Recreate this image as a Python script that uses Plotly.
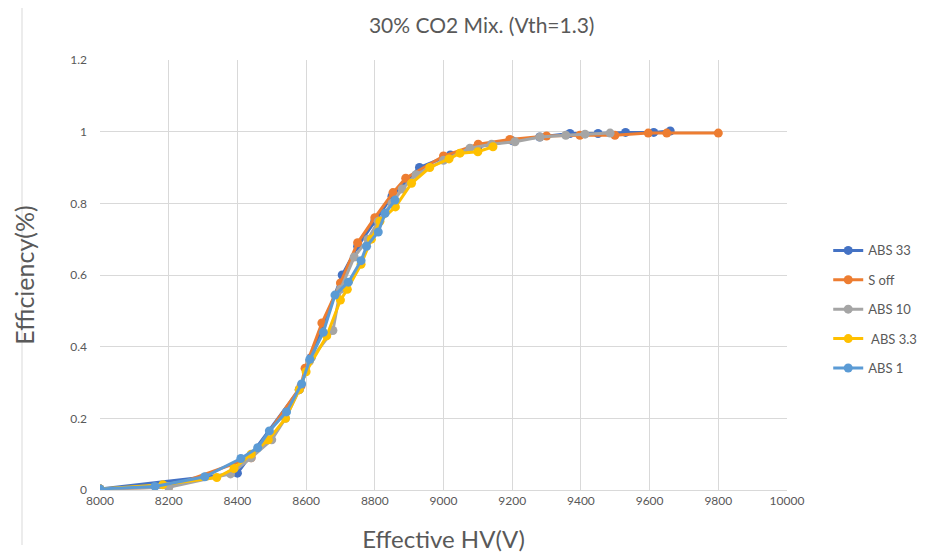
import plotly.graph_objects as go

# ABS 33
abs33_x = [8000, 8400, 8580, 8615, 8705, 8750, 8800, 8850, 8930, 9020, 9100, 9200, 9280, 9368, 9450, 9530, 9612, 9660]
abs33_y = [0.003, 0.047, 0.28, 0.37, 0.60, 0.68, 0.75, 0.82, 0.90, 0.935, 0.958, 0.975, 0.985, 0.995, 0.995, 0.998, 0.998, 1.002]
# S off
soff_x = [8000, 8200, 8440, 8585, 8597, 8646, 8700, 8750, 8800, 8853, 8890, 9000, 9101, 9193, 9300, 9397, 9499, 9596, 9650, 9800]
soff_y = [0.003, 0.008, 0.09, 0.29, 0.34, 0.466, 0.578, 0.69, 0.76, 0.83, 0.87, 0.932, 0.965, 0.978, 0.988, 0.99, 0.99, 0.996, 0.996, 0.996]
# ABS 10
abs10_x = [8000, 8200, 8380, 8440, 8500, 8540, 8580, 8610, 8678, 8700, 8740, 8780, 8810, 8850, 8880, 8920, 9000, 9077, 9140, 9208, 9281, 9356, 9412, 9485]
abs10_y = [0.003, 0.008, 0.045, 0.09, 0.14, 0.20, 0.28, 0.36, 0.445, 0.56, 0.65, 0.70, 0.75, 0.80, 0.84, 0.88, 0.92, 0.954, 0.965, 0.972, 0.985, 0.99, 0.993, 0.996]
# ABS 3.3
abs3_x = [8000, 8183, 8340, 8390, 8440, 8490, 8540, 8580, 8600, 8660, 8700, 8720, 8760, 8790, 8815, 8860, 8907, 8960, 9016, 9048, 9100, 9144]
abs3_y = [0.003, 0.015, 0.035, 0.06, 0.10, 0.14, 0.20, 0.28, 0.33, 0.43, 0.53, 0.56, 0.63, 0.70, 0.75, 0.79, 0.856, 0.90, 0.924, 0.94, 0.944, 0.958]
# ABS 1
abs1_x = [8000, 8160, 8305, 8410, 8459, 8493, 8543, 8587, 8611, 8650, 8684, 8723, 8760, 8776, 8810, 8830, 8859]
abs1_y = [0.003, 0.01, 0.037, 0.088, 0.118, 0.165, 0.218, 0.296, 0.365, 0.44, 0.544, 0.58, 0.64, 0.68, 0.72, 0.772, 0.809]

series = [
    ("ABS 33", abs33_x, abs33_y, "#4472C4"),
    ("S off", soff_x, soff_y, "#ED7D31"),
    ("ABS 10", abs10_x, abs10_y, "#A5A5A5"),
    (" ABS 3.3", abs3_x, abs3_y, "#FFC000"),
    ("ABS 1", abs1_x, abs1_y, "#5B9BD5"),
]

x_ticks = list(range(8000, 10001, 200))
y_ticks = [0, 0.2, 0.4, 0.6, 0.8, 1, 1.2]

fig = go.Figure()
for i, (name, xs, ys, col) in enumerate(series):
    fig.add_trace(go.Scatter(
        x=xs, y=ys, name=name, mode="lines+markers",
        line=dict(color=col, width=3),
        marker=dict(color=col, size=9),
        legendgroup=str(i),
    ))

font_family = "Lato, Open Sans, sans-serif"
fig.update_layout(
    width=938, height=556,
    margin=dict(l=92, r=159, t=52, b=74),
    paper_bgcolor="white", plot_bgcolor="white",
    font=dict(family=font_family, color="#595959", size=12),
    title=dict(text="30% CO2 Mix. (Vth=1.3)", x=0.505, xanchor="center", y=0.969, yanchor="middle",
               font=dict(size=21, color="#595959")),
    xaxis=dict(range=[8000, 10000], tickvals=x_ticks, ticktext=[str(v) for v in x_ticks],
               showgrid=True, gridcolor="#D9D9D9", gridwidth=1, zeroline=False,
               showline=True, linecolor="#D9D9D9", ticks="",
               tickfont=dict(size=12, color="#595959"),
               title=dict(text="Effective HV(V)", font=dict(size=24, color="#595959"), standoff=23)),
    yaxis=dict(range=[0, 1.2], tickvals=y_ticks, ticktext=["0", "0.2", "0.4", "0.6", "0.8", "1", "1.2"],
               showgrid=True, gridcolor="#D9D9D9", gridwidth=1, zeroline=False,
               showline=False, ticks="", ticklabelstandoff=12,
               tickfont=dict(size=12, color="#595959"),
               title=dict(text="Efficiency(%)", font=dict(size=25, color="#595959"), standoff=28)),
    legend=dict(x=1.06, y=0.592, xanchor="left", yanchor="top", tracegroupgap=9.5, itemwidth=30,
                font=dict(size=13, color="#595959"), bgcolor="rgba(0,0,0,0)"),
    showlegend=True,
)
fig.add_shape(type="line", xref="paper", yref="paper",
              x0=-78/687, x1=-78/687, y0=-55/430, y1=(490-8)/430,
              line=dict(color="#D9D9D9", width=1))

fig.write_html("out.html")
